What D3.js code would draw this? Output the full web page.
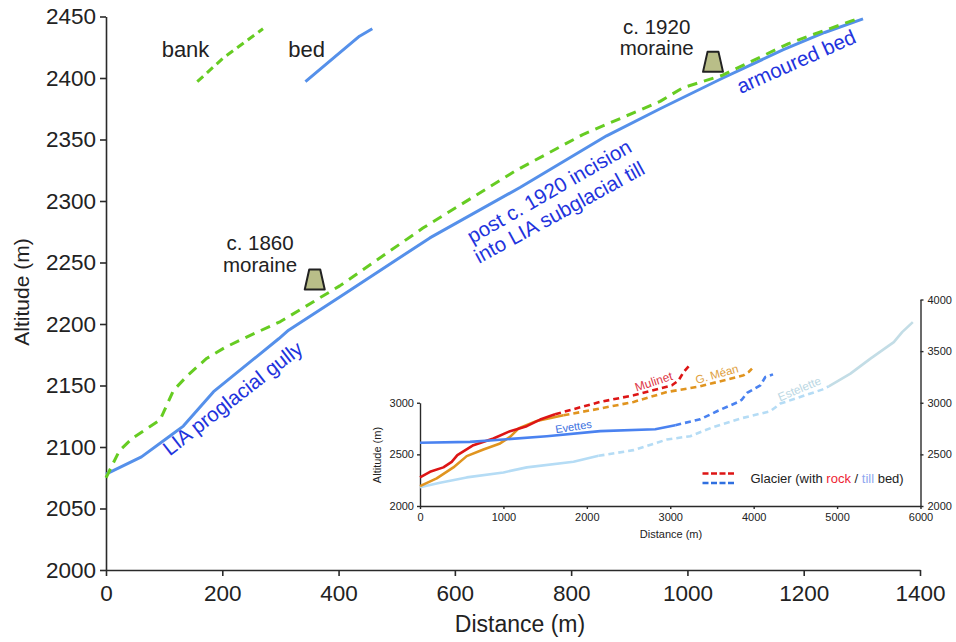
<!DOCTYPE html>
<html lang="en">
<head>
<meta charset="UTF-8">
<title>Distance vs altitude profile</title>
<script src="https://d3js.org/d3.v7.min.js"></script>
<style>
  body { margin: 0; background: #fff; font-family: "Liberation Sans", Arial, sans-serif; }
  svg { display: block; }
  .axis path, .axis line { stroke: #2a2a2a; }
  .axis text { fill: #222; font-family: "Liberation Sans", Arial, sans-serif; }
</style>
</head>
<body>
<svg id="chart" width="956" height="642"></svg>
<script>
// main profile: distance (m) and altitude (m)
const bankDist = [0, 23, 45, 93, 116, 140, 173, 205, 240, 300, 402, 545, 706, 820, 953, 992, 1059, 1174, 1214, 1286, 1297];
const bankAlt = [2075, 2097, 2107, 2122, 2146, 2158, 2172, 2181, 2189, 2202, 2231, 2278, 2325, 2354, 2381, 2392, 2402, 2428, 2435, 2447, 2449];
const bedDist = [0, 61, 110, 133, 185, 297, 314, 402, 557, 712, 861, 953, 1061, 1165, 1236, 1302];
const bedAlt = [2078, 2092, 2109, 2117, 2145, 2188, 2195, 2222, 2270, 2311, 2353, 2375, 2400, 2423, 2437, 2448];

// little key lines in the top left
const keyBankDist = [157, 201, 270];
const keyBankAlt = [2397, 2416, 2440];
const keyBedDist = [343, 393, 436, 458];
const keyBedAlt = [2397, 2417, 2434, 2440];

const moraineDist = [359, 1044];
const moraineAlt = [2228, 2405];

const xTicks = [0, 200, 400, 600, 800, 1000, 1200, 1400];
const yTicks = [2000, 2050, 2100, 2150, 2200, 2250, 2300, 2350, 2400, 2450];

// inset: other glaciers
const mulinetDist = [0, 120, 280, 380, 448, 640, 880, 1080, 1280, 1440, 1620];
const mulinetAlt = [2277, 2331, 2374, 2428, 2493, 2589, 2654, 2725, 2773, 2837, 2889];
const mulinetDashDist = [1620, 2160, 2560, 3020, 3100, 3160, 3248];
const mulinetDashAlt = [2889, 3008, 3072, 3169, 3217, 3298, 3379];

const meanDist = [0, 200, 400, 560, 760, 960, 1080, 1180, 1400, 1720];
const meanAlt = [2193, 2267, 2374, 2483, 2548, 2606, 2670, 2750, 2824, 2879];
const meanDashDist = [1720, 2160, 2560, 2960, 3360, 3880, 3940, 3980];
const meanDashAlt = [2879, 2944, 3008, 3104, 3159, 3266, 3298, 3330];

const evettesDist = [0, 600, 1000, 1520, 2160, 2820, 3060];
const evettesAlt = [2612, 2621, 2644, 2676, 2725, 2744, 2783];
const evettesDashDist = [3060, 3360, 3560, 3800, 3860, 3920, 4080, 4140, 4232];
const evettesDashAlt = [2783, 2840, 2918, 3002, 3031, 3095, 3169, 3249, 3275];

const esteletteDist = [0, 240, 560, 1000, 1280, 1840, 2140];
const esteletteAlt = [2181, 2225, 2277, 2325, 2374, 2428, 2486];
const esteletteDashDist = [2140, 2560, 2960, 3240, 3520, 3840, 4200, 4320, 4820, 4900];
const esteletteDashAlt = [2486, 2541, 2644, 2676, 2766, 2847, 2918, 2992, 3127, 3159];
const esteletteTopDist = [4900, 5160, 5400, 5680, 5780, 5908];
const esteletteTopAlt = [3159, 3282, 3427, 3587, 3684, 3781];

const insetXTicks = [0, 1000, 2000, 3000, 4000, 5000, 6000];
const insetLeftTicks = [2000, 2500, 3000];
const insetRightTicks = [2000, 2500, 3000, 3500, 4000];

const svg = d3.select("#chart");

const x = d3.scaleLinear().domain([0, 1400]).range([106, 920]);
const y = d3.scaleLinear().domain([2000, 2450]).range([570, 16.5]);

const line = d3.line().x(d => x(d[0])).y(d => y(d[1]));
const pairs = (a, b) => a.map((v, i) => [v, b[i]]);

// main axes
svg.append("g").attr("class", "axis").attr("transform", "translate(0,570)")
  .call(d3.axisBottom(x).tickValues(xTicks).tickFormat(d3.format("d")).tickSize(6).tickSizeOuter(0).tickPadding(9.5))
  .call(g => g.selectAll("text").attr("font-size", 22.5))
  .call(g => g.selectAll("path,line").attr("stroke-width", 1.6));
svg.append("g").attr("class", "axis").attr("transform", "translate(106,0)")
  .call(d3.axisLeft(y).tickValues(yTicks).tickFormat(d3.format("d")).tickSize(6).tickSizeOuter(0).tickPadding(4))
  .call(g => g.selectAll("text").attr("font-size", 22.5))
  .call(g => g.selectAll("path,line").attr("stroke-width", 1.6));

svg.append("text").attr("x", 520).attr("y", 632).attr("text-anchor", "middle")
  .attr("font-size", 23).attr("fill", "#222").text("Distance (m)");
svg.append("text").attr("transform", "translate(29,292) rotate(-90)").attr("text-anchor", "middle")
  .attr("font-size", 21).attr("fill", "#222").text("Altitude (m)");

// profile lines
const drawLine = (data, color, width, dash, lineGen) => svg.append("path")
  .attr("d", lineGen(data)).attr("fill", "none").attr("stroke", color)
  .attr("stroke-width", width).attr("stroke-dasharray", dash)
  .attr("stroke-linejoin", "round");

const bankColor = "#66cc22", bedColor = "#5590ea";
drawLine(pairs(bedDist, bedAlt), bedColor, 3, null, line);
drawLine(pairs(bankDist, bankAlt), bankColor, 3, "10 7", line);
drawLine(pairs(keyBedDist, keyBedAlt), bedColor, 3, null, line);
drawLine(pairs(keyBankDist, keyBankAlt), bankColor, 3, "8 5.1", line);

// moraines
moraineDist.forEach((d, i) => {
  const cx = x(d), by = y(moraineAlt[i]);
  const shape = [[-10, 0], [10, 0], [5.5, -20], [-5.5, -20]];
  svg.append("polygon").attr("points", shape.map(p => [cx + p[0], by + p[1]].join(",")).join(" "))
    .attr("fill", "#b9be88").attr("stroke", "#222").attr("stroke-width", 2).attr("stroke-linejoin", "round");
});

const label = (tx, ty, txt, size, color, rot, anchor) => svg.append("text")
  .attr("transform", `translate(${tx},${ty}) rotate(${rot || 0})`)
  .attr("text-anchor", anchor || "middle").attr("font-size", size).attr("fill", color).text(txt);

label(185.5, 57, "bank", 22, "#222");
label(306.7, 57, "bed", 22, "#222");
label(260, 250, "c. 1860", 20.5, "#222");
label(260, 271.7, "moraine", 20.5, "#222");
label(656.7, 33.5, "c. 1920", 20.5, "#222");
label(656.7, 55, "moraine", 20.5, "#222");

const textBlue = "#2233dd";
label(237, 404, "LIA proglacial gully", 20.5, textBlue, -38);
label(552.7, 197.5, "post c. 1920 incision", 20.5, textBlue, -30);
label(562.7, 218.5, "into LIA subglacial till", 20.5, textBlue, -28.5);
label(799, 68, "armoured bed", 20.5, textBlue, -24);

// inset
const ix = d3.scaleLinear().domain([0, 6000]).range([420, 920.5]);
const iy = d3.scaleLinear().domain([2000, 4000]).range([506, 299.5]);
const iyLeft = d3.scaleLinear().domain([2000, 3000]).range([iy(2000), iy(3000)]);
const iline = d3.line().x(d => ix(d[0])).y(d => iy(d[1]));

const insetAxis = g => g.call(s => s.selectAll("text").attr("font-size", 11))
  .call(s => s.selectAll("path,line").attr("stroke-width", 1.4));
svg.append("g").attr("class", "axis").attr("transform", "translate(0,506)")
  .call(d3.axisBottom(ix).tickValues(insetXTicks).tickFormat(d3.format("d")).tickSize(3).tickSizeOuter(0).tickPadding(4))
  .call(insetAxis);
svg.append("g").attr("class", "axis").attr("transform", "translate(420,0)")
  .call(d3.axisLeft(iyLeft).tickValues(insetLeftTicks).tickFormat(d3.format("d")).tickSize(3).tickSizeOuter(0).tickPadding(3))
  .call(insetAxis);
svg.append("g").attr("class", "axis").attr("transform", "translate(920.5,0)")
  .call(d3.axisRight(iy).tickValues(insetRightTicks).tickFormat(d3.format("d")).tickSize(3).tickSizeOuter(0).tickPadding(4))
  .call(insetAxis);

label(671, 538, "Distance (m)", 11, "#222");
label(381, 455, "Altitude (m)", 11, "#222", -90);

const red = "#dd1515", orange = "#e0941f", blue = "#4a82f0", paleBlue = "#b5dcf5", paleGrey = "#c3dde6";
const idash = "6 4";
drawLine(pairs(esteletteDist, esteletteAlt), paleBlue, 2.6, null, iline);
drawLine(pairs(esteletteDashDist, esteletteDashAlt), paleBlue, 2.6, idash, iline);
drawLine(pairs(esteletteTopDist, esteletteTopAlt), paleGrey, 2.6, null, iline);
drawLine(pairs(meanDist, meanAlt), orange, 2.6, null, iline);
drawLine(pairs(meanDashDist, meanDashAlt), orange, 2.6, idash, iline);
drawLine(pairs(mulinetDist, mulinetAlt), red, 2.6, null, iline);
drawLine(pairs(mulinetDashDist, mulinetDashAlt), red, 2.6, idash, iline);
drawLine(pairs(evettesDist, evettesAlt), blue, 2.6, null, iline);
drawLine(pairs(evettesDashDist, evettesDashAlt), blue, 2.6, idash, iline);

label(655, 385.5, "Mulinet", 12, "#dd3344", -18);
label(718, 378, "G. Méan", 11.5, "#e0a040", -16);
label(574, 430.5, "Evettes", 11, "#3a6fe0", -9);
label(801, 392.5, "Estelette", 11.7, "#bcd8e4", -23);

// glacier key
svg.append("path").attr("d", d3.line()([[702.5, 473.5], [734, 473.5]])).attr("stroke", "#dd1515").attr("stroke-width", 2.6).attr("stroke-dasharray", "6 2.5").attr("fill", "none");
svg.append("path").attr("d", d3.line()([[702.5, 483], [734, 483]])).attr("stroke", "#2f6fe0").attr("stroke-width", 2.6).attr("stroke-dasharray", "6 2.5").attr("fill", "none");
const key = svg.append("text").attr("x", 750.5).attr("y", 482.5).attr("font-size", 13).attr("fill", "#222");
key.append("tspan").text("Glacier (with ");
key.append("tspan").attr("fill", "#ee2233").text("rock");
key.append("tspan").text(" / ");
key.append("tspan").attr("fill", "#8fa8f0").text("till");
key.append("tspan").text(" bed)");
</script>
</body>
</html>
